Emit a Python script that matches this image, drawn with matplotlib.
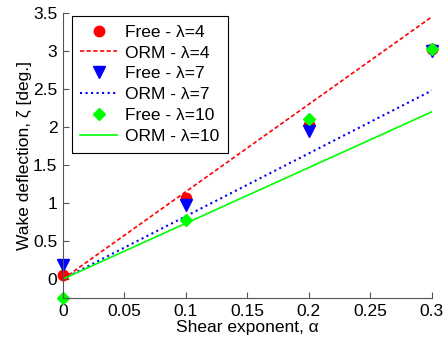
import matplotlib
matplotlib.use("Agg")
import matplotlib.pyplot as plt

plt.rcParams.update({"font.family": ["Liberation Sans", "DejaVu Sans"],
                     "font.size": 12.5})

shear = [0.0, 0.1, 0.2, 0.3]
free_l4 = [0.05, 1.07, 2.03, 3.02]
free_l7 = [0.18, 0.97, 1.95, 3.00]
free_l10 = [-0.25, 0.78, 2.10, 3.02]

orm_x = [0.0, 0.3]
orm_l4 = [0.0, 3.45]
orm_l7 = [0.0, 2.48]
orm_l10 = [0.0, 2.20]

fig = plt.figure(figsize=(4.43, 3.41), dpi=100)
ax = fig.add_axes([0.142, 0.126, 0.833, 0.836])

ax.plot(shear, free_l4, "o", color="#ff0000", ms=7.5, label="Free - λ=4", clip_on=False)
ax.plot(orm_x, orm_l4, "--", color="#ff0000", lw=1.2, dashes=(2.5, 1.5), label="ORM - λ=4")
ax.plot(shear, free_l7, "v", color="#0000ff", ms=8, label="Free - λ=7", clip_on=False)
ax.plot(orm_x, orm_l7, ":", color="#0000ff", lw=1.5, label="ORM - λ=7")
ax.plot(shear, free_l10, "D", color="#00ff00", ms=6.5, label="Free - λ=10", clip_on=False)
ax.plot(orm_x, orm_l10, "-", color="#00ff00", lw=1.2, label="ORM - λ=10")

ax.set_xlim(0, 0.3)
ax.set_ylim(-0.25, 3.5)
ax.set_xticks([0, 0.05, 0.1, 0.15, 0.2, 0.25, 0.3])
ax.set_xticklabels(["0", "0.05", "0.1", "0.15", "0.2", "0.25", "0.3"])
ax.set_yticks([0, 0.5, 1, 1.5, 2, 2.5, 3, 3.5])
ax.set_yticklabels(["0", "0.5", "1", "1.5", "2", "2.5", "3", "3.5"])
ax.spines["top"].set_visible(False)
ax.spines["right"].set_visible(False)
for s in ("left", "bottom"):
    ax.spines[s].set_color("#555555")
ax.tick_params(direction="in", length=4, color="#555555", labelcolor="black", pad=4)

ax.set_xlabel("Shear exponent, α", labelpad=1)
ax.set_ylabel("Wake deflection, ζ [deg.]", labelpad=1)

leg = ax.legend(loc="upper left", bbox_to_anchor=(0.024, 0.99), fancybox=False,
                edgecolor="black", framealpha=1, handlelength=2.1,
                labelspacing=0.33, borderpad=0.5, handletextpad=0.45,
                borderaxespad=0.0)
leg.get_frame().set_linewidth(0.8)

fig.savefig("out.png", dpi=100)
